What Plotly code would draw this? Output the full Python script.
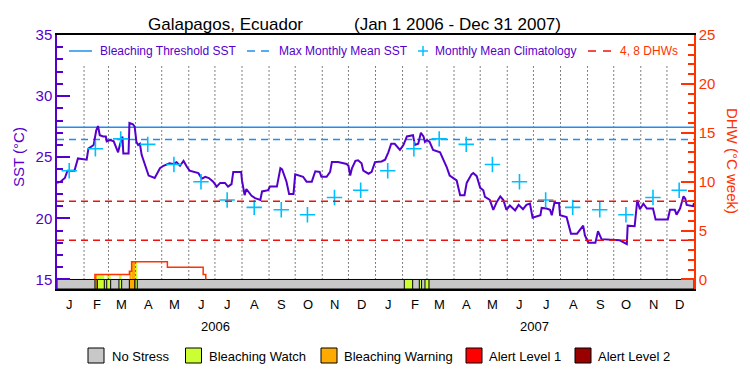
import pandas as pd
import plotly.graph_objects as go

# ---------------- data ----------------
base = pd.Timestamp("2006-01-01")

sst_day = [0, 4, 9, 12, 20, 24, 34, 36, 42, 45, 47, 49, 53, 56, 57, 61, 65, 68, 70, 72,
           75, 76, 82, 83, 87, 89, 91, 93, 95, 97, 101, 105, 112, 114, 118, 122, 129, 133,
           137, 141, 145, 149, 152, 162, 166, 170, 174, 179, 183, 187, 192.5, 196, 200,
           202, 211, 212, 215, 217, 219, 223, 227, 233, 235, 242, 244, 252, 256, 258, 263,
           266, 271, 273, 282, 286, 292, 296, 301, 303, 309, 313, 315, 322, 332, 334, 336,
           338, 342, 345, 349, 351, 357, 360.6, 364.4, 372, 376, 379.7, 383, 387, 393, 397,
           401, 408, 410, 414, 417, 420, 421.7, 424, 427, 431, 439, 443, 446.6, 448, 450,
           458, 462, 467, 469.5, 475, 477, 481, 485, 488.5, 490.5, 496, 500, 504, 508,
           511.5, 515, 519, 525, 529, 534, 538, 542, 545, 554, 555.4, 561, 565, 567, 570,
           575.3, 576.5, 584, 589, 596, 603, 605, 609, 617, 620, 624, 645, 653, 654, 662,
           665, 668, 672, 676, 683, 686, 700, 702.5, 708, 710, 714, 718, 720, 721.6, 729, 730]
sst_val = [22.9, 23.0, 23.3, 23.9, 23.9, 24.9, 24.8, 25.7, 26.0, 27.2, 27.55, 26.8, 26.7,
           26.7, 26.3, 26.4, 26.3, 25.7, 25.4, 26.0, 26.7, 25.3, 25.3, 27.8, 27.7, 27.5,
           26.25, 26.0, 26.1, 25.2, 24.3, 23.5, 23.3, 23.6, 24.1, 24.3, 24.5, 24.45, 24.6,
           24.3, 24.7, 24.2, 23.9, 23.7, 23.25, 23.4, 23.3, 23.0, 22.6, 22.9, 22.9, 22.6,
           22.8, 23.8, 23.8, 23.1, 21.9, 22.4, 22.2, 21.85, 21.65, 21.5, 22.2, 22.3, 22.6,
           22.6, 24.1, 24.0, 23.0, 22.0, 22.0, 23.6, 23.4, 23.0, 23.0, 23.85, 23.8, 23.4,
           23.4, 23.8, 24.6, 24.6, 24.45, 24.3, 23.5, 24.1, 24.7, 24.75, 24.5, 23.9, 23.65,
           23.8, 24.6, 24.65, 24.8, 25.4, 26.1, 26.1, 25.6, 26.0, 26.7, 26.8, 26.0, 26.1,
           27.0, 26.7, 26.25, 26.4, 26.25, 25.6, 25.4, 24.8, 24.2, 23.9, 23.5, 23.1, 21.9,
           21.9, 22.9, 23.6, 23.7, 23.45, 22.5, 22.3, 21.75, 21.5, 20.7, 21.35, 21.8, 21.5,
           20.7, 21.05, 20.65, 21.1, 20.75, 21.1, 21.2, 20.05, 20.25, 20.85, 20.8, 20.7,
           20.25, 21.25, 21.25, 20.25, 20.1, 18.75, 18.75, 19.4, 18.6, 18.0, 18.0, 18.95,
           18.3, 18.2, 17.9, 19.4, 19.35, 21.5, 20.75, 21.2, 20.8, 20.8, 19.9, 19.9, 20.7,
           20.7, 20.3, 20.8, 21.8, 21.6, 21.1, 21.0, 21.25]

clim_date = ["2006-01-15", "2006-02-14", "2006-03-15", "2006-04-15", "2006-05-15",
             "2006-06-15", "2006-07-15", "2006-08-15", "2006-09-15", "2006-10-15",
             "2006-11-15", "2006-12-15", "2007-01-15", "2007-02-14", "2007-03-15",
             "2007-04-15", "2007-05-15", "2007-06-15", "2007-07-15", "2007-08-15",
             "2007-09-15", "2007-10-15", "2007-11-15", "2007-12-15"]
clim_val = [23.9, 25.7, 26.5, 26.05, 24.4, 23.0, 21.5, 20.9, 20.7, 20.3, 21.7, 22.3,
            23.9, 25.7, 26.5, 26.05, 24.4, 23.0, 21.5, 20.9, 20.7, 20.3, 21.7, 22.3]

threshold_sst = 27.45
mmm_sst = 26.45
dhw_levels = [4, 8]

dhw_day = [43.5, 43.5, 83, 85.5, 126.5, 167.5, 170.5]
dhw_val = [0, 0.5, 0.85, 1.8, 1.26, 0.5, 0]

stress_start = [43.5, 46.2, 57, 71, 82.9, 89.4, 398, 415.2, 421.7]
stress_end = [46.2, 54.2, 61.5, 74.1, 89.4, 92, 407.6, 417.8, 426.3]
stress_level = [2, 1, 1, 1, 2, 1, 1, 1, 1]

month_letters = ["J", "F", "M", "A", "M", "J", "J", "A", "S", "O", "N", "D"]
years = ["2006", "2007"]

stress_names = ["No Stress", "Bleaching Watch", "Bleaching Warning", "Alert Level 1", "Alert Level 2"]
stress_colors = ["#c8c8c8", "#ccff33", "#ffaa00", "#ff0000", "#990000"]

# ---------------- styling ----------------
PURPLE = "#5500cc"
ORANGE = "#ff3300"
BLUE = "#1f8fef"
CYAN = "#00bfff"
RED = "#ee1111"
FONT = "Liberation Sans"

Y_MIN, Y_MAX = 14.22, 35.0
Y2_MIN, Y2_MAX = (Y_MIN - 15) * 1.25, 25.0

L, R, T, B = 57, 56, 35, 86
W, H = 750, 375
PW, PH = W - L - R, H - T - B


def px(xp):
    return (xp - L) / PW


def py(yp):
    return (H - B - yp) / PH


def d(day):
    return base + pd.to_timedelta(day, unit="D")


def label(x, y, text, size, color, xanchor="left", xref="paper", angle=0):
    return dict(x=x, y=y, xref=xref, yref="paper", xanchor=xanchor, yanchor="middle",
                text=text, showarrow=False, textangle=angle,
                font=dict(family=FONT, size=size, color=color))


x_start, x_end = pd.Timestamp("2006-01-01"), pd.Timestamp("2008-01-01")

fig = go.Figure()

# horizontal reference lines
fig.add_trace(go.Scatter(x=[x_start, x_end], y=[threshold_sst] * 2, mode="lines",
                         line=dict(color=BLUE, width=1.5), hoverinfo="skip"))
fig.add_trace(go.Scatter(x=[x_start, x_end], y=[mmm_sst] * 2, mode="lines",
                         line=dict(color=BLUE, width=1.5, dash="7px,5px"), hoverinfo="skip"))
for lv in dhw_levels:
    fig.add_trace(go.Scatter(x=[x_start, x_end], y=[lv] * 2, mode="lines", yaxis="y2",
                             line=dict(color=RED, width=1.5, dash="7px,5px"), hoverinfo="skip"))

# SST
fig.add_trace(go.Scatter(x=[d(v) for v in sst_day], y=sst_val, mode="lines",
                         line=dict(color=PURPLE, width=2)))
# climatology
fig.add_trace(go.Scatter(x=pd.to_datetime(clim_date), y=clim_val, mode="markers",
                         marker=dict(symbol="cross-thin", size=11,
                                     line=dict(color=CYAN, width=1.6))))
# DHW
fig.add_trace(go.Scatter(x=[d(v) for v in dhw_day], y=dhw_val, mode="lines", yaxis="y2",
                         line=dict(color=ORANGE, width=1.5, shape="hv")))

shapes = []
# gray no-stress band
shapes.append(dict(type="rect", xref="x", yref="y2", x0=x_start, x1=x_end, y0=Y2_MIN, y1=0,
                   fillcolor=stress_colors[0], line=dict(color="black", width=1), layer="below"))


def dhw_at(day):
    val = 0
    for dd, vv in zip(dhw_day, dhw_val):
        if dd <= day:
            val = vv
    return val


# stress bars
for s, e, lv in zip(stress_start, stress_end, stress_level):
    col = stress_colors[lv]
    cuts = sorted(set([s, e] + [dd for dd in dhw_day if s < dd < e]))
    for a, b in zip(cuts[:-1], cuts[1:]):
        top = dhw_at(a + 1e-6)
        if top > 0:
            shapes.append(dict(type="rect", xref="x", yref="y2", x0=d(a), x1=d(b), y0=0, y1=top,
                               fillcolor=col, line=dict(width=0), layer="below"))
    shapes.append(dict(type="rect", xref="x", yref="y2", x0=d(s), x1=d(e), y0=Y2_MIN, y1=0,
                       fillcolor=col, line=dict(color="black", width=1), layer="below"))

# month dotted lines
for m in pd.date_range("2006-02-01", "2007-12-01", freq="MS"):
    shapes.append(dict(type="line", xref="x", yref="y", x0=m, x1=m, y0=15, y1=32.55,
                       line=dict(color="black", width=1, dash="1px,3px"), layer="below"))

annotations = []
# month and year labels
for i, m in enumerate(pd.date_range("2006-01-01", "2007-12-01", freq="MS")):
    annotations.append(label(m + pd.Timedelta(days=14.5), py(304), month_letters[i % 12], 13,
                             "black", xanchor="center", xref="x"))
for yr in years:
    annotations.append(label(pd.Timestamp(f"{yr}-07-02"), py(326), yr, 13, "black",
                             xanchor="center", xref="x"))

# title
annotations.append(label(px(146), py(24), "Galapagos, Ecuador", 17, "black"))
annotations.append(label(px(352), py(24), "(Jan 1 2006 - Dec 31 2007)", 17, "black"))

# axis titles
annotations.append(label(px(18), py(157), "SST (°C)", 15, PURPLE, xanchor="center", angle=-90))
annotations.append(label(px(733), py(161), "DHW (°C week)", 15, ORANGE, xanchor="center", angle=90))

# top legend
LY = 51
shapes.append(dict(type="line", xref="paper", yref="paper", x0=px(69), x1=px(92), y0=py(LY), y1=py(LY),
                   line=dict(color=BLUE, width=1.5)))
annotations.append(label(px(98), py(LY), "Bleaching Threshold SST", 12, PURPLE))
for a, b in [(247, 255), (261, 269)]:
    shapes.append(dict(type="line", xref="paper", yref="paper", x0=px(a), x1=px(b), y0=py(LY), y1=py(LY),
                       line=dict(color=BLUE, width=1.5)))
annotations.append(label(px(277), py(LY), "Max Monthly Mean SST", 12, PURPLE))
shapes.append(dict(type="line", xref="paper", yref="paper", x0=px(418), x1=px(428), y0=py(LY), y1=py(LY),
                   line=dict(color=CYAN, width=1.5)))
shapes.append(dict(type="line", xref="paper", yref="paper", x0=px(423), x1=px(423), y0=py(LY - 5), y1=py(LY + 5),
                   line=dict(color=CYAN, width=1.5)))
annotations.append(label(px(433), py(LY), "Monthly Mean Climatology", 12, PURPLE))
for a, b in [(588, 596), (603, 611)]:
    shapes.append(dict(type="line", xref="paper", yref="paper", x0=px(a), x1=px(b), y0=py(LY), y1=py(LY),
                       line=dict(color=RED, width=1.5)))
annotations.append(label(px(618), py(LY), "4, 8 DHWs", 12, ORANGE))

# bottom stress legend
box_left = [88, 185.5, 321, 466, 575]
text_left = [110, 207, 342, 487, 596]
for name, col, bl, tl in zip(stress_names, stress_colors, box_left, text_left):
    shapes.append(dict(type="rect", xref="paper", yref="paper", x0=px(bl), x1=px(bl + 16),
                       y0=py(363), y1=py(348), fillcolor=col, line=dict(color="black", width=1)))
    annotations.append(label(px(tl), py(356), name, 13, "black"))

fig.update_layout(
    width=W, height=H, showlegend=False,
    margin=dict(l=L, r=R, t=T, b=B, autoexpand=False),
    paper_bgcolor="white", plot_bgcolor="white",
    font=dict(family=FONT),
    shapes=shapes, annotations=annotations,
    xaxis=dict(type="date", range=[x_start, x_end], showticklabels=False, ticks="",
               showgrid=False, zeroline=False, showline=True, linecolor="black",
               linewidth=1.5, mirror=True),
    yaxis=dict(range=[Y_MIN, Y_MAX], tickvals=[15, 20, 25, 30, 35], ticks="inside", ticklen=13,
               tickcolor=PURPLE, tickwidth=1.5, showgrid=False, zeroline=False,
               showline=True, linecolor=PURPLE, linewidth=1.5,
               tickfont=dict(family=FONT, size=15, color=PURPLE),
               minor=dict(dtick=1, tick0=15, ticks="inside", ticklen=6, tickcolor=PURPLE, tickwidth=1.5)),
    yaxis2=dict(range=[Y2_MIN, Y2_MAX], overlaying="y", side="right",
                tickvals=[0, 5, 10, 15, 20, 25], ticks="inside", ticklen=13,
                tickcolor=ORANGE, tickwidth=1.5, showgrid=False, zeroline=False,
                showline=True, linecolor=ORANGE, linewidth=1.5,
                tickfont=dict(family=FONT, size=15, color=ORANGE),
                minor=dict(dtick=1, tick0=0, ticks="inside", ticklen=6, tickcolor=ORANGE, tickwidth=1.5)),
)

fig.write_html("out.html", config={"displayModeBar": False},
               post_script="document.body.style.margin='0px';document.body.style.overflow='hidden';")
